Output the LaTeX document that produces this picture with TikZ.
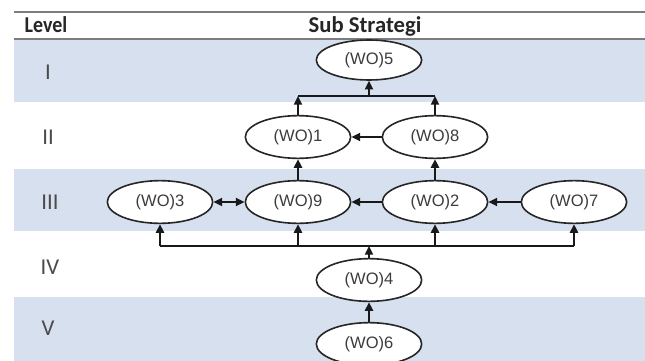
\documentclass[tikz,border=0pt]{standalone}
\usepackage{fontspec}
\setmainfont{Liberation Sans}
\newfontfamily\hdfont{Carlito}
\usetikzlibrary{arrows.meta,shapes.geometric}
\definecolor{bandblue}{RGB}{214,224,238}
\definecolor{nodetext}{RGB}{60,60,60}
\definecolor{rulegray}{RGB}{125,125,125}
\definecolor{romgray}{RGB}{75,75,75}
\begin{document}
\begin{tikzpicture}[x=0.75pt,y=-0.75pt,
  wo/.style={ellipse,draw=black!85,line width=1.2pt,fill=white,inner sep=0pt,
    minimum width=79pt,minimum height=32pt,text=nodetext,
    font=\fontsize{12.4}{14}\selectfont},
  hdr/.style={font=\hdfont\bfseries\fontsize{17}{20}\selectfont,text=black!85,anchor=base,inner sep=0pt},
  rom/.style={font=\hdfont\fontsize{17}{20}\selectfont,text=romgray,inner sep=0pt},
  conn/.style={line width=1.5pt,black!90},
  arr/.style={conn,-{Triangle[length=6.5pt,width=6pt]}},
  darr/.style={conn,{Triangle[length=6.5pt,width=6pt]}-{Triangle[length=6.5pt,width=6pt]}}
]
\useasboundingbox (0,0) rectangle (645,360);
\fill[white] (0,0) rectangle (645,360);
% bands
\fill[bandblue] (14,40) rectangle (645,102);
\fill[bandblue] (14,169) rectangle (645,231);
\fill[bandblue] (14,297) rectangle (645,362);
% header rules
\draw[rulegray,line width=1.4pt] (14,12) -- (645,12);
\draw[rulegray,line width=1.2pt] (14,39) -- (645,39);
% header texts
\node[hdr,xscale=0.88] (lvl) at (46,32.5) {Level};
\node[hdr] (sub) at (365,32.5) {Sub Strategi};
% roman numerals
\node[rom] (r1) at (48,72) {I};
\node[rom] (r2) at (48,137) {II};
\node[rom] (r3) at (50,202) {III};
\node[rom] (r4) at (50,267) {IV};
\node[rom] (r5) at (48,328) {V};
% nodes
\node[wo,minimum height=30pt] (wo5) at (369,60) {(WO)5};
\node[wo] (wo1) at (298,137) {(WO)1};
\node[wo] (wo8) at (435,137) {(WO)8};
\node[wo] (wo3) at (160,202) {(WO)3};
\node[wo] (wo9) at (298,202) {(WO)9};
\node[wo] (wo2) at (435,202) {(WO)2};
\node[wo] (wo7) at (574,202) {(WO)7};
\node[wo] (wo4) at (369,280) {(WO)4};
\node[wo] (wo6) at (369,344) {(WO)6};
% buses
\coordinate (tb) at (369,96);
\coordinate (bb) at (369,246);
\draw[conn] (wo1 |- tb) -- (wo8 |- tb);
\draw[arr] (wo1.north) -- (wo1 |- tb);
\draw[arr] (wo8.north) -- (wo8 |- tb);
\draw[arr] (tb) -- (wo5.south);
\draw[conn] (wo3 |- bb) -- (wo7 |- bb);
\draw[arr] (wo4.north) -- (bb);
\draw[arr] (wo3 |- bb) -- (wo3.south);
\draw[arr] (wo9 |- bb) -- (wo9.south);
\draw[arr] (wo2 |- bb) -- (wo2.south);
\draw[arr] (wo7 |- bb) -- (wo7.south);
% other connectors
\draw[arr] (wo8.west) -- (wo1.east);
\draw[arr] (wo9.north) -- (wo1.south);
\draw[arr] (wo2.north) -- (wo8.south);
\draw[darr] (wo3.east) -- (wo9.west);
\draw[arr] (wo2.west) -- (wo9.east);
\draw[arr] (wo7.west) -- (wo2.east);
\draw[arr] (wo6.north) -- (wo4.south);
\end{tikzpicture}
\end{document}
